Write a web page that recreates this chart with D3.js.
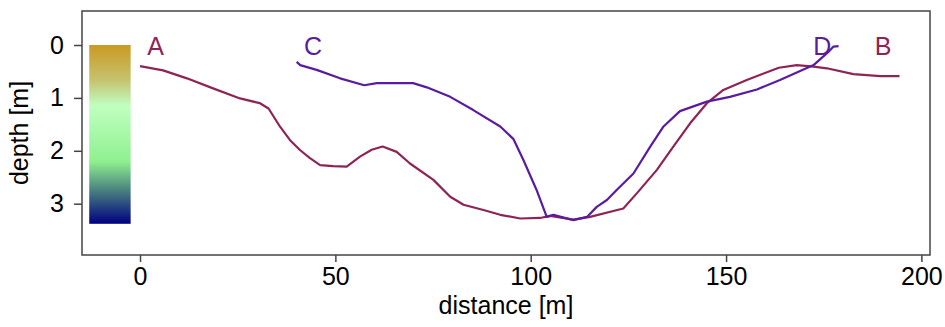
<!DOCTYPE html>
<html>
<head>
<meta charset="utf-8">
<script src="https://cdn.jsdelivr.net/npm/d3@7"></script>
<style>
  html, body { margin: 0; padding: 0; background: #fff; }
  svg { display: block; font-family: "Liberation Sans", Arial, sans-serif; }
</style>
</head>
<body>
<svg id="chart" width="945" height="327"></svg>
<script>
// ---- data ----
const abDistance = [0, 5.9, 12, 18.7, 25.6, 30.7, 32.9, 35.8, 38.4, 41, 43.5, 46.1, 49.4, 52.9, 56.3, 59.3, 62.1, 65.7, 69.1, 75.1, 79.4, 82.8, 87.9, 92.2, 97.3, 102.4, 105, 110.9, 115.2, 123.7, 127.2, 132.3, 136.5, 140.8, 145.1, 149.3, 155.3, 163.5, 168.1, 172.4, 175.8, 182.6, 189.5, 194.4];
const abDepth    = [0.40, 0.48, 0.63, 0.82, 1.01, 1.10, 1.20, 1.54, 1.80, 1.99, 2.14, 2.27, 2.29, 2.30, 2.11, 1.98, 1.92, 2.02, 2.24, 2.55, 2.87, 3.02, 3.12, 3.21, 3.28, 3.27, 3.23, 3.30, 3.25, 3.09, 2.80, 2.36, 1.92, 1.48, 1.10, 0.85, 0.66, 0.43, 0.38, 0.41, 0.44, 0.55, 0.59, 0.59];
const cdDistance = [40.1, 41, 45.2, 51.2, 57.4, 60.6, 69.9, 73.4, 79.4, 85.3, 92.2, 95.6, 98.1, 101.5, 104.1, 105.8, 110.9, 114.4, 116.9, 119.5, 122, 126.3, 130.6, 134, 138.2, 145.1, 151, 157.9, 163.8, 168.1, 172.4, 176.2, 177.5, 178.8];
const cdDepth    = [0.32, 0.38, 0.47, 0.63, 0.76, 0.72, 0.72, 0.80, 0.98, 1.23, 1.54, 1.78, 2.17, 2.74, 3.25, 3.21, 3.31, 3.25, 3.06, 2.93, 2.74, 2.43, 1.92, 1.54, 1.25, 1.07, 0.98, 0.84, 0.66, 0.52, 0.38, 0.13, 0.03, 0.02];
const endLabels   = ["A", "C", "D", "B"];
const endLabelX   = [4, 44.3, 174.6, 190.2];
const endLabelSeries = ["ab", "cd", "cd", "ab"];
const xTicks = [0, 50, 100, 150, 200];
const yTicks = [0, 1, 2, 3];
const colorbarDepth = [0, 3.38];
const colorbarX = [-13, -2.4];
const colorbarStops = [0, 0.2, 0.34, 0.65, 0.8, 1];
const colorbarColors = ["#cc9922", "#c4c470", "#c0ffc0", "#90f090", "#4e8a80", "#000080"];
const xLabel = "distance [m]";
const yLabel = "depth [m]";

// ---- layout ----
const W = 945, H = 327;
const plot = { left: 82, right: 930, top: 11, bottom: 255 };
const seriesColor = { ab: "#8e2456", cd: "#5a1c9e" };
const frameColor = "#444";
const fontSize = 25;

const svg = d3.select("#chart");
const x = d3.scaleLinear().domain([-14.85, 202.2]).range([plot.left, plot.right]);
const y = d3.scaleLinear().domain([-0.643, 3.97]).range([plot.top, plot.bottom]);

// colorbar
const defs = svg.append("defs");
const grad = defs.append("linearGradient").attr("id", "cbar")
  .attr("x1", 0).attr("y1", 0).attr("x2", 0).attr("y2", 1);
grad.selectAll("stop").data(colorbarStops).join("stop")
  .attr("offset", d => d)
  .attr("stop-color", (d, i) => colorbarColors[i]);
svg.append("rect")
  .attr("x", x(colorbarX[0]))
  .attr("y", y(colorbarDepth[0]))
  .attr("width", x(colorbarX[1]) - x(colorbarX[0]))
  .attr("height", y(colorbarDepth[1]) - y(colorbarDepth[0]))
  .attr("fill", "url(#cbar)");

// lines
const line = d3.line().x(d => x(d[0])).y(d => y(d[1]));
const ab = abDistance.map((d, i) => [d, abDepth[i]]);
const cd = cdDistance.map((d, i) => [d, cdDepth[i]]);
svg.append("path").datum(ab).attr("d", line)
  .attr("fill", "none").attr("stroke", seriesColor.ab).attr("stroke-width", 2.2)
  .attr("stroke-linejoin", "round");
svg.append("path").datum(cd).attr("d", line)
  .attr("fill", "none").attr("stroke", seriesColor.cd).attr("stroke-width", 2.2)
  .attr("stroke-linejoin", "round");

// end labels
svg.append("g").selectAll("text").data(endLabels).join("text")
  .attr("x", (d, i) => x(endLabelX[i]))
  .attr("y", y(0))
  .attr("dy", "0.4em")
  .attr("text-anchor", "middle")
  .attr("font-size", fontSize)
  .attr("fill", (d, i) => seriesColor[endLabelSeries[i]])
  .text(d => d);

// frame
svg.append("rect")
  .attr("x", plot.left).attr("y", plot.top)
  .attr("width", plot.right - plot.left).attr("height", plot.bottom - plot.top)
  .attr("fill", "none").attr("stroke", frameColor).attr("stroke-width", 1.5);

// axes
const xAxis = svg.append("g").attr("transform", `translate(0,${plot.bottom})`)
  .call(d3.axisBottom(x).tickValues(xTicks).tickSize(7).tickPadding(5).tickFormat(d3.format("d")));
const yAxis = svg.append("g").attr("transform", `translate(${plot.left},0)`)
  .call(d3.axisLeft(y).tickValues(yTicks).tickSize(8).tickPadding(10).tickFormat(d3.format("d")));
[xAxis, yAxis].forEach(g => {
  g.select(".domain").remove();
  g.selectAll(".tick line").attr("stroke", frameColor).attr("stroke-width", 1.5);
  g.selectAll(".tick text").attr("font-size", fontSize).attr("fill", "#000")
    .attr("font-family", "Liberation Sans, Arial, sans-serif");
});

// axis titles
svg.append("text")
  .attr("x", (plot.left + plot.right) / 2).attr("y", 314)
  .attr("text-anchor", "middle").attr("font-size", fontSize).attr("fill", "#000")
  .text(xLabel);
svg.append("text")
  .attr("transform", `translate(28,${(plot.top + plot.bottom) / 2}) rotate(-90)`)
  .attr("text-anchor", "middle").attr("font-size", fontSize).attr("fill", "#000")
  .text(yLabel);
</script>
</body>
</html>
